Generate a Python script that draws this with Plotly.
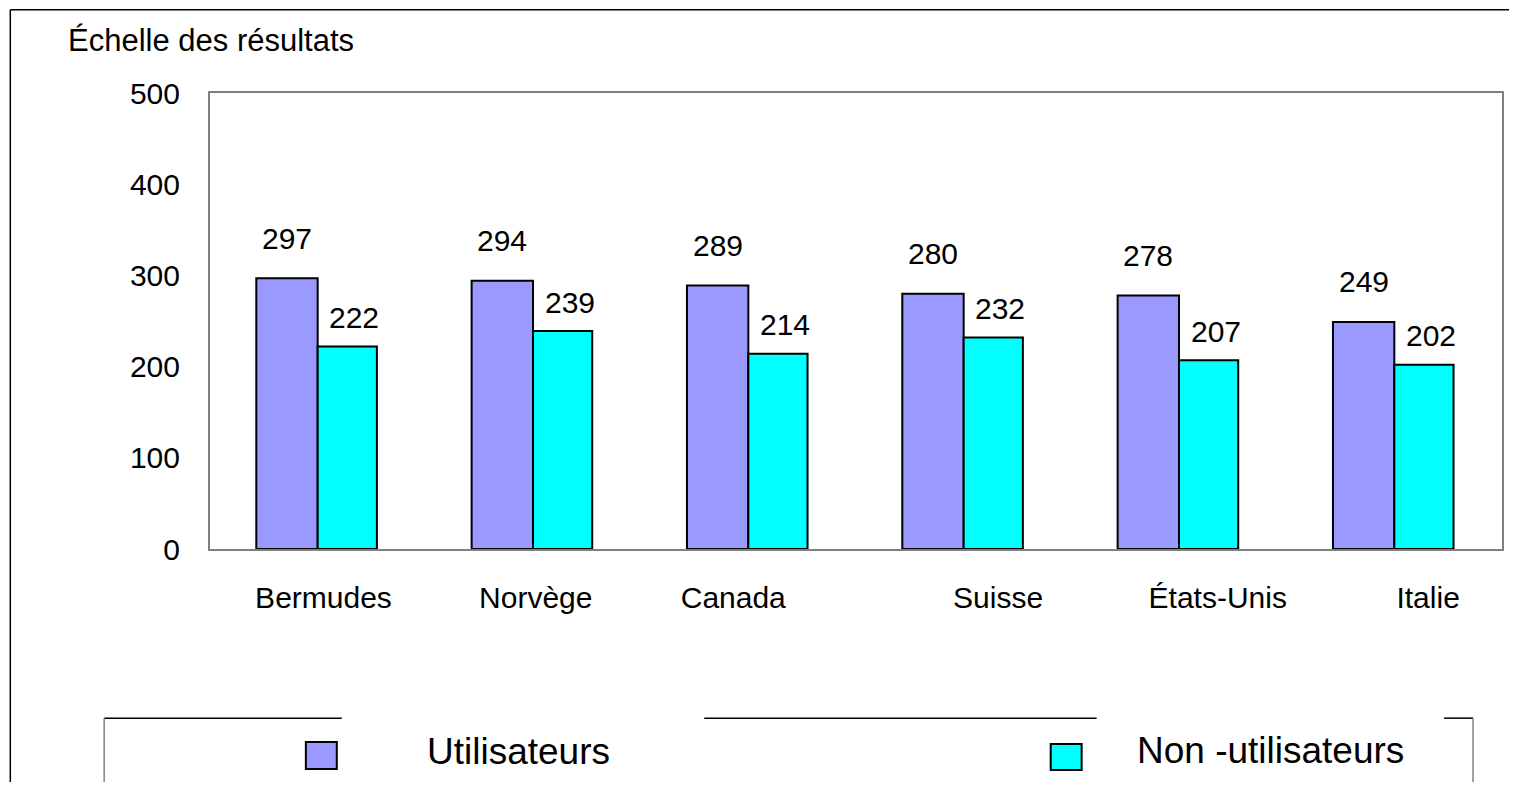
import plotly.graph_objects as go

# data
countries = ["Bermudes", "Norvège", "Canada", "Suisse", "États-Unis", "Italie"]
users = [297, 294, 289, 280, 278, 249]
non_users = [222, 239, 214, 232, 207, 202]
y_ticks = [0, 100, 200, 300, 400, 500]

series_names = ["Utilisateurs", "Non -utilisateurs"]
colors = ["#9999FF", "#00FFFF"]

# the category labels sit a bit off-centre in the original
label_shift = [0.027, 0.013, -0.07, 0.16, 0.18, 0.157]

font_family = "Liberation Sans, Arial, sans-serif"

# page layout in pixels (the body has an 8px margin)
W, H = 1501, 774
plot_left, plot_right, plot_top, plot_bottom = 210, 1504, 92.5, 549.5


def xp(x):
    # reference pixel x -> paper coordinate
    return (x - plot_left) / (plot_right - plot_left)


def yp(y):
    # reference pixel y -> paper coordinate
    return (plot_bottom - y) / (plot_bottom - plot_top)


x_idx = list(range(len(countries)))
w_users, w_non = 0.285, 0.275

fig = go.Figure()
fig.add_trace(go.Bar(
    x=x_idx, y=users, name=series_names[0],
    offset=-w_users, width=w_users,
    marker=dict(color=colors[0], line=dict(color="black", width=2)),
    hoverinfo="y"
))
fig.add_trace(go.Bar(
    x=x_idx, y=non_users, name=series_names[1],
    offset=0, width=w_non,
    marker=dict(color=colors[1], line=dict(color="black", width=2)),
    hoverinfo="y"
))

# value labels above the bars
for i, v in enumerate(users):
    fig.add_annotation(x=i - w_users / 2, y=v, text=str(v), showarrow=False,
                       yanchor="middle", yshift=40,
                       font=dict(size=30, color="black", family=font_family))
for i, v in enumerate(non_users):
    fig.add_annotation(x=i + w_non / 2, y=v, text=str(v), showarrow=False,
                       yanchor="middle", yshift=29, xshift=7,
                       font=dict(size=30, color="black", family=font_family))

# y axis title
fig.add_annotation(xref="paper", yref="paper", x=xp(66), y=yp(40),
                   xanchor="left", yanchor="middle", showarrow=False,
                   text="Échelle des résultats",
                   font=dict(size=31, color="black", family=font_family))

shapes = []
# outer frame (top and left edges)
shapes.append(dict(type="line", xref="paper", yref="paper",
                   x0=xp(10), x1=xp(1520), y0=yp(9), y1=yp(9),
                   line=dict(color="black", width=1.5)))
shapes.append(dict(type="line", xref="paper", yref="paper",
                   x0=xp(10), x1=xp(10), y0=yp(9), y1=yp(800),
                   line=dict(color="black", width=1.5)))

# legend box: top border has gaps, no bottom edge visible
for a, b in [(104, 342), (705, 1098), (1446, 1475)]:
    shapes.append(dict(type="line", xref="paper", yref="paper",
                       x0=xp(a), x1=xp(b), y0=yp(719), y1=yp(719),
                       line=dict(color="black", width=1.5)))
for xv in [104, 1475]:
    shapes.append(dict(type="line", xref="paper", yref="paper",
                       x0=xp(xv), x1=xp(xv), y0=yp(719), y1=yp(800),
                       line=dict(color="#808080", width=1.5)))

# legend swatches and labels
swatches = [(306, 337, 743, 770), (1052, 1083, 745, 771)]
text_pos = [(519, 752), (1272, 751)]
for k in range(2):
    x0, x1, y0, y1 = swatches[k]
    shapes.append(dict(type="rect", xref="paper", yref="paper",
                       x0=xp(x0), x1=xp(x1), y0=yp(y1), y1=yp(y0),
                       fillcolor=colors[k], line=dict(color="black", width=2)))
    fig.add_annotation(xref="paper", yref="paper",
                       x=xp(text_pos[k][0]), y=yp(text_pos[k][1]),
                       xanchor="center", yanchor="middle", showarrow=False,
                       text=series_names[k],
                       font=dict(size=37, color="black", family=font_family))

fig.update_layout(
    width=W, height=H,
    margin=dict(l=plot_left - 8, r=W - (plot_right - 8), t=plot_top - 8, b=H - (plot_bottom - 8)),
    barmode="overlay",
    showlegend=False,
    plot_bgcolor="white",
    paper_bgcolor="white",
    font=dict(family=font_family, color="black"),
    shapes=shapes
)
fig.update_xaxes(
    range=[-0.5, 5.5],
    tickvals=[i + s for i, s in zip(x_idx, label_shift)],
    ticktext=countries,
    tickfont=dict(size=30, color="black"),
    ticks="", ticklabelstandoff=21,
    showline=True, mirror=True, linecolor="#808080", linewidth=2,
    showgrid=False, zeroline=False
)
fig.update_yaxes(
    range=[0, 500],
    tickvals=y_ticks,
    tickfont=dict(size=30, color="black"),
    ticks="", ticklabelstandoff=22,
    showline=True, mirror=True, linecolor="#808080", linewidth=2,
    showgrid=False, zeroline=False
)

fig.write_html("out.html")
